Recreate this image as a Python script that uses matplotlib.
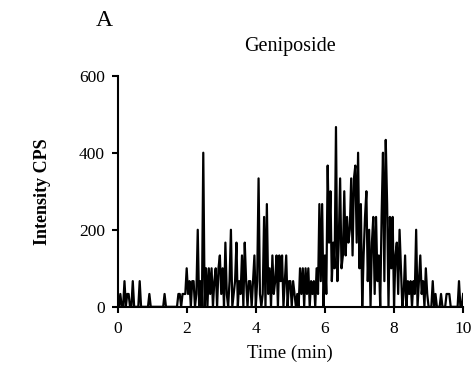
import numpy as np
import matplotlib
matplotlib.use('Agg')
import matplotlib.pyplot as plt

plt.rcParams['font.family'] = ['Liberation Serif', 'DejaVu Serif']

# ion counts per scan (1 count = 33.3 CPS), 0.04 min apart
counts = [
    0, 0, 1, 0, 0, 2, 0, 1, 1, 0, 0, 2, 0, 0, 0, 0, 2, 0, 0, 0, 0, 0, 0, 1, 0,   # 0-1 min
    0, 0, 0, 0, 0, 0, 0, 0, 0, 1, 0, 0, 0, 0, 0, 0, 0, 0, 0, 1, 1, 0, 1, 1, 1,   # 1-2
    3, 1, 2, 0, 2, 2, 0, 1, 6, 0, 2, 0, 12, 0, 3, 0, 3, 1, 3, 0, 2, 3, 0, 3, 4,  # 2-3
    1, 3, 0, 5, 1, 0, 2, 6, 0, 1, 2, 5, 0, 2, 1, 4, 0, 5, 2, 0, 2, 2, 0, 2, 4,   # 3-4
    0, 2, 10, 1, 0, 1, 7, 0, 8, 1, 3, 0, 4, 1, 2, 4, 0, 4, 2, 4, 0, 2, 4, 0, 2,  # 4-5
    2, 0, 2, 1, 0, 1, 0, 3, 1, 3, 0, 3, 1, 3, 0, 2, 1, 2, 0, 3, 1, 8, 2, 8, 0,   # 5-6
    4, 1, 11, 5, 9, 2, 5, 3, 14, 2, 5, 10, 3, 4, 9, 4, 7, 5, 6, 10, 4, 10, 11, 5, 12,  # 6-7
    3, 8, 0, 4, 7, 9, 2, 6, 0, 5, 7, 1, 7, 2, 4, 0, 7, 12, 2, 13, 8, 0, 7, 3, 7,  # 7-8
    0, 4, 5, 1, 6, 3, 0, 1, 4, 0, 2, 1, 2, 0, 2, 1, 6, 0, 2, 4, 1, 2, 0, 3, 1,   # 8-9
    0, 0, 0, 2, 0, 1, 0, 0, 0, 1, 0, 0, 0, 1, 1, 1, 0, 0, 0, 0, 0, 0, 2, 0, 0, 1,  # 9-10
]
cps_per_count = 100 / 3
intensity = np.array(counts) * cps_per_count
time = np.linspace(0, 10, len(counts))

xticks = [0, 2, 4, 6, 8, 10]
yticks = [0, 200, 400, 600]

fig = plt.figure(figsize=(4.76, 3.71), dpi=100)
ax = fig.add_axes([0.247, 0.173, 0.726, 0.623])

ax.plot(time, intensity, color='black', lw=1.6)

ax.set_xlim(0, 10)
ax.set_ylim(0, 600)
ax.set_xticks(xticks)
ax.set_yticks(yticks)
ax.spines['top'].set_visible(False)
ax.spines['right'].set_visible(False)
ax.spines['left'].set_linewidth(1.5)
ax.spines['bottom'].set_linewidth(1.5)
ax.tick_params(direction='out', length=4, width=1.5, labelsize=12.5)
ax.tick_params(axis='x', pad=6)
ax.tick_params(axis='y', pad=5)

ax.set_xlabel('Time (min)', fontsize=13.5, labelpad=6)
ax.set_ylabel('Intensity CPS', fontsize=13, fontweight='bold', labelpad=20)
ax.set_title('Geniposide', fontsize=14.5, pad=18)
fig.text(0.22, 0.945, 'A', fontsize=17, ha='center', va='center')

fig.savefig('out.png', dpi=100)
